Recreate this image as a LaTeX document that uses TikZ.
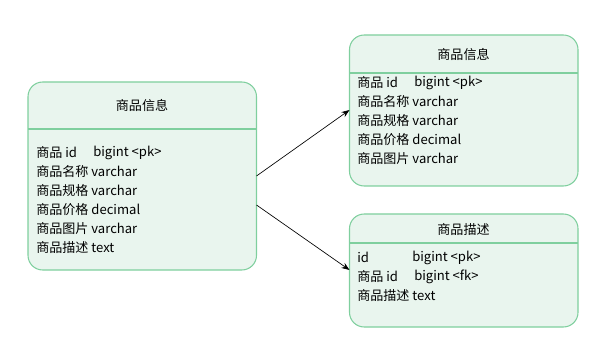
\documentclass[tikz,border=0pt]{standalone}
\usepackage{fontspec}
\setmainfont{Noto Sans CJK SC}
\usetikzlibrary{arrows.meta}
\definecolor{boxfill}{HTML}{E9F5EE}
\definecolor{boxline}{HTML}{7FCF9E}
\tikzset{
  entity/.style={draw=boxline, fill=boxfill, line width=0.8pt, rounded corners=11pt},
  divider/.style={draw=boxline, line width=0.8pt},
  title/.style={font=\fontsize{9.8pt}{11pt}\selectfont, inner sep=0pt},
  field/.style={font=\fontsize{9.8pt}{11pt}\selectfont, inner sep=0pt, anchor=west},
  link/.style={draw=black, line width=0.5pt, -{Stealth[length=6pt,width=4.5pt]}}
}
\begin{document}
\begin{tikzpicture}[x=0.75pt,y=-0.75pt]
\useasboundingbox (0,0) rectangle (616,352);
% left entity
\path[entity] (28,82) rectangle (256.5,270);
\node[title] (lt) at (142,105.5) {商品信息};
\draw[divider] (28,129) -- (256.5,129);
\node[field] (l1) at (36,152.5) {商品 id};
\node[field] (l1b) at (93,152.5) {bigint <pk>};
\node[field] (l2) at (36,171.5) {商品名称 varchar};
\node[field] (l3) at (36,190.5) {商品规格 varchar};
\node[field] (l4) at (36,209.5) {商品价格 decimal};
\node[field] (l5) at (36,228.5) {商品图片 varchar};
\node[field] (l6) at (36,247.5) {商品描述 text};
% top right entity
\path[entity] (349.5,35) rectangle (578,186);
\node[title] (rt) at (463.5,54.5) {商品信息};
\draw[divider] (349.5,73) -- (578,73);
\node[field] (r1) at (357,82.5) {商品 id};
\node[field] (r1b) at (414,82.5) {bigint <pk>};
\node[field] (r2) at (357,101.5) {商品名称 varchar};
\node[field] (r3) at (357,120.5) {商品规格 varchar};
\node[field] (r4) at (357,139.5) {商品价格 decimal};
\node[field] (r5) at (357,158.5) {商品图片 varchar};
% bottom right entity
\path[entity] (349.5,214) rectangle (578,327);
\node[title] (bt) at (463.5,229.5) {商品描述};
\draw[divider] (349.5,243) -- (578,243);
\node[field] (b1) at (357,257.5) {id};
\node[field] (b1b) at (412,257.5) {bigint <pk>};
\node[field] (b2) at (357,276.5) {商品 id};
\node[field] (b2b) at (414,276.5) {bigint <fk>};
\node[field] (b3) at (357,295.5) {商品描述 text};
% connectors
\coordinate (s1) at (256.5,176);
\coordinate (e1) at (349.5,110);
\coordinate (s2) at (256.5,205);
\coordinate (e2) at (349.5,270);
\draw[link] (s1) -- (e1);
\draw[link] (s2) -- (e2);
\end{tikzpicture}
\end{document}
